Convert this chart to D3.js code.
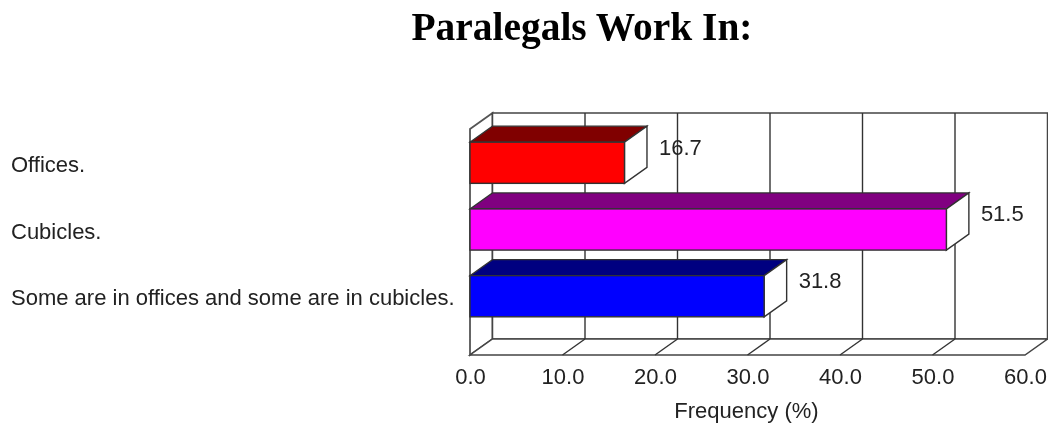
<!DOCTYPE html>
<html>
<head>
<meta charset="utf-8">
<script src="https://cdn.jsdelivr.net/npm/d3@7"></script>
<style>
    html, body { margin: 0; padding: 0; background: #fff; }
    svg { display: block; }
</style>
</head>
<body>
<div id="chart"></div>
<script>
var categories = ["Offices.", "Cubicles.", "Some are in offices and some are in cubicles."];
var frequency = [16.7, 51.5, 31.8];
var xTicks = [0, 10, 20, 30, 40, 50, 60];
var frontColors = ["#ff0000", "#ff00ff", "#0000ff"];
var topColors = ["#800000", "#800080", "#000080"];

var w = 1048, h = 427;
var depthX = 22.5, depthY = 16;
var lineColor = "#333", textColor = "#222";

var root = d3.select("#chart").append("svg")
    .attr("width", w)
    .attr("height", h);

// the reference is a soft, slightly blurred scan
root.append("filter")
    .attr("id", "soft")
    .attr("x", 0).attr("y", 0).attr("width", 1).attr("height", 1)
    .attr("filterUnits", "objectBoundingBox")
    .append("feGaussianBlur")
    .attr("stdDeviation", 0.4);

var svg = root.append("g").attr("filter", "url(#soft)");

svg.append("rect").attr("width", w).attr("height", h).attr("fill", "#fff");

var x = d3.scaleLinear().domain([0, 60]).range([470, 1025]);
var y = d3.scaleBand().domain(categories).range([129.5, 329.5])
    .paddingInner(0.383).paddingOuter(0.19);

var plotTop = 129, plotBottom = 355;

function pts(a) {
    return a.map(function(p) { return p.join(","); }).join(" ");
}

// walls and floor
svg.append("polygon")
    .attr("points", pts([
        [x(0), plotTop], [x(0) + depthX, plotTop - depthY],
        [x(0) + depthX, plotBottom - depthY], [x(0), plotBottom]
    ]))
    .attr("fill", "#fff").attr("stroke", "#555").attr("stroke-width", 1.8);

svg.append("rect")
    .attr("x", x(0) + depthX)
    .attr("y", plotTop - depthY)
    .attr("width", x(60) - x(0))
    .attr("height", plotBottom - plotTop)
    .attr("fill", "#fff").attr("stroke", "#444").attr("stroke-width", 1.5);

svg.append("polygon")
    .attr("points", pts([
        [x(0), plotBottom], [x(60), plotBottom],
        [x(60) + depthX, plotBottom - depthY], [x(0) + depthX, plotBottom - depthY]
    ]))
    .attr("fill", "#fff").attr("stroke", "#444").attr("stroke-width", 1.5);

// grid on back wall and floor
svg.selectAll("line.grid")
    .data(xTicks.slice(1, -1))
    .enter()
    .append("line")
    .attr("class", "grid")
    .attr("x1", function(d) { return x(d) + depthX; })
    .attr("x2", function(d) { return x(d) + depthX; })
    .attr("y1", plotTop - depthY)
    .attr("y2", plotBottom - depthY)
    .attr("stroke", lineColor).attr("stroke-width", 1.4);

svg.selectAll("line.floor")
    .data(xTicks.slice(1, -1))
    .enter()
    .append("line")
    .attr("class", "floor")
    .attr("x1", function(d) { return x(d); })
    .attr("x2", function(d) { return x(d) + depthX; })
    .attr("y1", plotBottom)
    .attr("y2", plotBottom - depthY)
    .attr("stroke", lineColor).attr("stroke-width", 1.4);

// bars
var bars = svg.selectAll("g.bar")
    .data(frequency)
    .enter()
    .append("g")
    .attr("class", "bar");

bars.append("polygon")
    .attr("points", function(d, i) {
        var t = y(categories[i]);
        return pts([[x(0), t], [x(d), t], [x(d) + depthX, t - depthY], [x(0) + depthX, t - depthY]]);
    })
    .attr("fill", function(d, i) { return topColors[i]; })
    .attr("stroke", lineColor).attr("stroke-width", 1.2);

bars.append("polygon")
    .attr("points", function(d, i) {
        var t = y(categories[i]), b = t + y.bandwidth();
        return pts([[x(d), t], [x(d) + depthX, t - depthY], [x(d) + depthX, b - depthY], [x(d), b]]);
    })
    .attr("fill", "#fff")
    .attr("stroke", lineColor).attr("stroke-width", 1.4);

bars.append("rect")
    .attr("x", x(0))
    .attr("y", function(d, i) { return y(categories[i]); })
    .attr("width", function(d) { return x(d) - x(0); })
    .attr("height", y.bandwidth())
    .attr("fill", function(d, i) { return frontColors[i]; })
    .attr("stroke", lineColor).attr("stroke-width", 1.4);

// value labels
bars.append("text")
    .text(function(d) { return d.toFixed(1); })
    .attr("x", function(d) { return x(d) + depthX + 12; })
    .attr("y", function(d, i) { return y(categories[i]) + 12.5; })
    .attr("font-family", "'Liberation Sans', sans-serif")
    .attr("font-size", "22px")
    .attr("fill", textColor);

// category labels
svg.selectAll("text.cat")
    .data(categories)
    .enter()
    .append("text")
    .attr("class", "cat")
    .text(function(d) { return d; })
    .attr("x", 11)
    .attr("y", function(d) { return y(d) + y.bandwidth() / 2 + 9; })
    .attr("font-family", "'Liberation Sans', sans-serif")
    .attr("font-size", "22px")
    .attr("fill", textColor);

// x axis labels
var xAxis = d3.axisBottom(x)
    .tickValues(xTicks)
    .tickSize(0)
    .tickPadding(13.4)
    .tickFormat(d3.format(".1f"));

var axisG = svg.append("g")
    .attr("transform", "translate(0," + plotBottom + ")")
    .call(xAxis);
axisG.select(".domain").remove();
axisG.selectAll("text")
    .attr("font-family", "'Liberation Sans', sans-serif")
    .attr("font-size", "22px")
    .attr("fill", textColor);

svg.append("text")
    .text("Frequency (%)")
    .attr("x", 746.5)
    .attr("y", 418)
    .attr("text-anchor", "middle")
    .attr("font-family", "'Liberation Sans', sans-serif")
    .attr("font-size", "22px")
    .attr("fill", textColor);

svg.append("text")
    .text("Paralegals Work In:")
    .attr("x", 582)
    .attr("y", 40)
    .attr("text-anchor", "middle")
    .attr("font-family", "'Liberation Serif', serif")
    .attr("font-weight", "bold")
    .attr("font-size", "41px")
    .attr("textLength", 341)
    .attr("lengthAdjust", "spacingAndGlyphs")
    .attr("fill", "#000");
</script>
</body>
</html>
